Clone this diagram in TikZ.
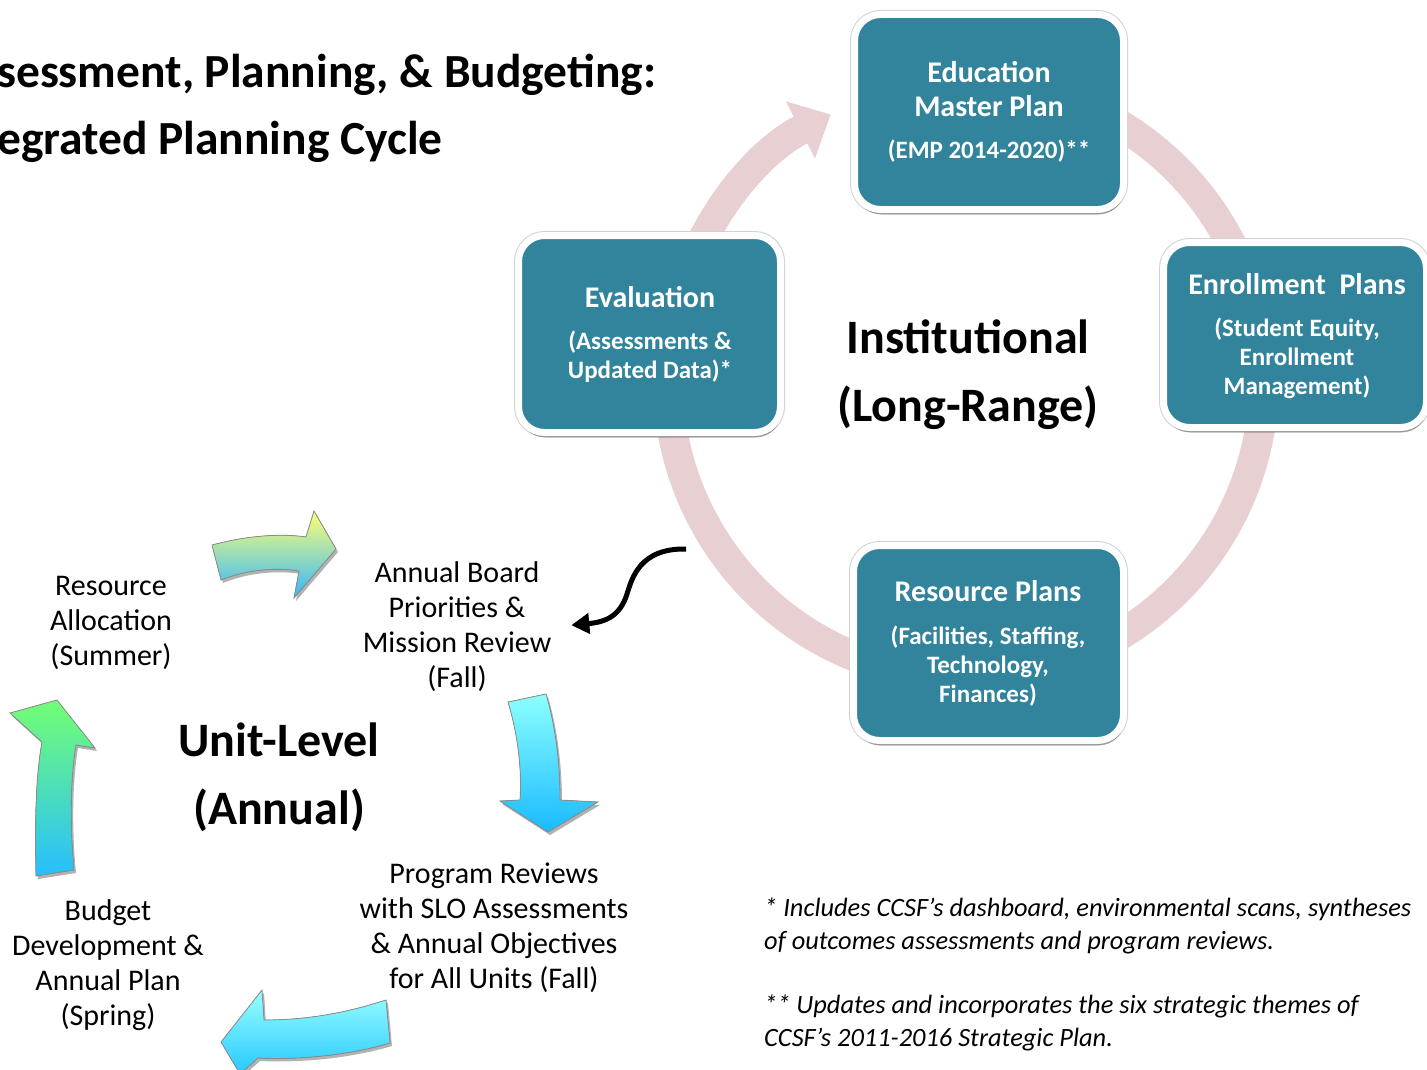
\documentclass[tikz,border=0pt]{standalone}
\usepackage{fontspec}
\setmainfont{Carlito}
\usetikzlibrary{arrows.meta,shadows,positioning}

\definecolor{planteal}{HTML}{31849B}
\definecolor{cyclepink}{HTML}{E8CFD1}

\begin{document}
\begin{tikzpicture}[x=1pt,y=-1pt,
  planbox/.style={rounded corners=26pt, fill=planteal, draw=white, line width=7pt,
    minimum width=269pt, minimum height=195pt,
    preaction={draw=black!18, line width=9pt},
    drop shadow={shadow xshift=1pt, shadow yshift=-5pt, opacity=.3, fill=black}},
  boxhead/.style={text=white, inner sep=0pt, align=center, font=\bfseries\fontsize{30}{34}\selectfont},
  boxsub/.style={text=white, inner sep=0pt, align=center, font=\bfseries\fontsize{25}{29}\selectfont},
  stage/.style={inner sep=0pt, align=center, font=\fontsize{30}{35}\selectfont},
  level/.style={inner sep=0pt, align=center, font=\bfseries\fontsize{48}{68}\selectfont},
  note/.style={inner sep=0pt, anchor=north west, align=left, font=\itshape\fontsize{26.4}{33}\selectfont},
  heading/.style={inner sep=0pt, anchor=base west, font=\bfseries\fontsize{47.5}{56}\selectfont},
  ring/.style={draw=cyclepink, line width=30pt, -{Triangle[width=62pt,length=34pt]}},
  blockarrow/.style={draw=black!45, line width=.8pt,
    drop shadow={shadow xshift=2pt, shadow yshift=-3pt, opacity=.3, fill=black}},
  swoop/.style={line width=5pt, -{Triangle[width=20pt,length=18pt]}, shorten >=20pt}]

\useasboundingbox (0,0) rectangle (1427,1070);
\clip (0,0) rectangle (1427,1070);

\node[heading] (head1) at (-3,88) {sessment, Planning, \& Budgeting:};
\node[heading] (head2) at (-3,154) {egrated Planning Cycle};

% long-range cycle
\coordinate (hub) at (966,380);
\draw[ring] (hub) ++(285:298) arc[start angle=285, end angle=603, radius=298];

\node[planbox] (emp) at (989,112) {};
\node[planbox, minimum width=262pt, minimum height=197pt] (eval) at (649.5,334) {};
\node[planbox, minimum width=263pt, minimum height=185pt] (enroll) at (1295,335) {};
\node[planbox, minimum width=270pt] (res) at (988.5,643) {};

\node[boxhead] (emp-h) at (989,89) {Education\\Master Plan};
\node[boxsub] (emp-s) at (989,151) {(EMP 2014-2020)**};
\node[boxhead] (eval-h) at (650,297) {Evaluation};
\node[boxsub] (eval-s) at (650,356.5) {(Assessments \&\\Updated Data)*};
\node[boxhead] (enroll-h) at (1297,284) {Enrollment~~Plans};
\node[boxsub] (enroll-s) at (1297,358) {(Student Equity,\\Enrollment\\Management)};
\node[boxhead] (res-h) at (988,591) {Resource Plans};
\node[boxsub] (res-s) at (988,666) {(Facilities, Staffing,\\Technology,\\Finances)};

\node[level] (inst) at (968,375) {Institutional\\(Long-Range)};

% annual cycle
\node[level] (unit) at (279,777) {Unit-Level\\(Annual)};
\node[stage] (alloc) at (111,623) {Resource\\Allocation\\(Summer)};
\node[stage] (board) at (457,627) {Annual Board\\Priorities \&\\Mission Review\\(Fall)};
\node[stage] (review) at (494,928) {Program Reviews\\with SLO Assessments\\\& Annual Objectives\\for All Units (Fall)};
\node[stage] (budget) at (108,965) {Budget\\Development \&\\Annual Plan\\(Spring)};

\fill[blockarrow, top color=yellow!55!white, middle color=cyan!15!white, bottom color=cyan!65!blue!80]
  (212,545) .. controls (245,536) and (280,533) .. (306,537) -- (314,511) -- (336,549)
  -- (294,598) -- (299,571) .. controls (275,567) and (245,570) .. (221,580) -- cycle;
\fill[blockarrow, top color=cyan!45!white, bottom color=cyan!70!blue!90]
  (508,702) .. controls (518,735) and (522,770) .. (520,800) -- (500,801) -- (548,832)
  -- (598,802) -- (560,800) .. controls (560,765) and (556,728) .. (546,694) -- cycle;
\fill[blockarrow, top color=cyan!40!white, bottom color=cyan!75!blue!85]
  (386,1000) .. controls (340,1015) and (300,1020) .. (264,1020) -- (262,990) -- (221,1042)
  -- (240,1074) -- (258,1058) .. controls (300,1060) and (350,1055) .. (390,1043) -- cycle;
\fill[blockarrow, top color=green!55!white, bottom color=cyan!70!blue!85]
  (36,876) .. controls (35,830) and (35,780) .. (42,742) -- (10,713) -- (57,700)
  -- (95,748) -- (76,745) .. controls (70,780) and (70,830) .. (74,870) -- cycle;

\coordinate (inst-out) at (686,549);
\draw[swoop] (inst-out) .. controls (640,548) and (632,578) .. (627,594)
  .. controls (620,616) and (606,622) .. (board.east);

\node[note] (note1) at (764,898) {* Includes CCSF’s dashboard, environmental scans, syntheses\\of outcomes assessments and program reviews.};
\node[note] (note2) at (764,995) {** Updates and incorporates the six strategic themes of\\CCSF’s 2011-2016 Strategic Plan.};
\end{tikzpicture}
\end{document}
